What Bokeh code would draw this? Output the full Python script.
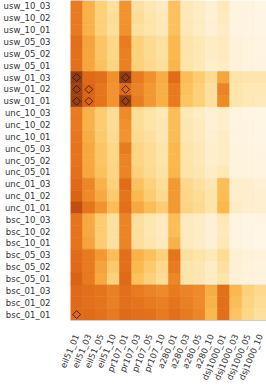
import math
from bokeh.plotting import figure
from bokeh.models import LinearColorMapper, ColumnDataSource
from bokeh.transform import transform
from bokeh.embed import file_html
from bokeh.resources import INLINE

columns = ["eil51_01", "eil51_03", "eil51_05", "eil51_10",
           "pr107_01", "pr107_03", "pr107_05", "pr107_10",
           "a280_01", "a280_03", "a280_05", "a280_10",
           "dsj1000_01", "dsj1000_03", "dsj1000_05", "dsj1000_10"]

usw_rows = ["usw_10_03", "usw_10_02", "usw_10_01", "usw_05_03", "usw_05_02",
            "usw_05_01", "usw_01_03", "usw_01_02", "usw_01_01"]
unc_rows = ["unc_10_03", "unc_10_02", "unc_10_01", "unc_05_03", "unc_05_02",
            "unc_05_01", "unc_01_03", "unc_01_02", "unc_01_01"]
bsc_rows = ["bsc_10_03", "bsc_10_02", "bsc_10_01", "bsc_05_03", "bsc_05_02",
            "bsc_05_01", "bsc_01_03", "bsc_01_02", "bsc_01_01"]

usw_values = [
    [0.60, 0.42, 0.30, 0.22, 0.52, 0.22, 0.18, 0.15, 0.36, 0.17, 0.14, 0.10, 0.16, 0.06, 0.06, 0.05],
    [0.60, 0.42, 0.30, 0.24, 0.52, 0.24, 0.20, 0.17, 0.36, 0.17, 0.14, 0.10, 0.15, 0.06, 0.06, 0.05],
    [0.60, 0.42, 0.30, 0.23, 0.53, 0.22, 0.20, 0.17, 0.36, 0.17, 0.14, 0.10, 0.13, 0.06, 0.06, 0.05],
    [0.64, 0.47, 0.35, 0.27, 0.60, 0.30, 0.25, 0.22, 0.40, 0.20, 0.17, 0.13, 0.15, 0.08, 0.07, 0.06],
    [0.63, 0.46, 0.35, 0.27, 0.58, 0.30, 0.25, 0.22, 0.40, 0.20, 0.17, 0.13, 0.15, 0.08, 0.07, 0.06],
    [0.63, 0.46, 0.36, 0.28, 0.58, 0.30, 0.26, 0.23, 0.41, 0.20, 0.17, 0.12, 0.14, 0.08, 0.07, 0.06],
    [0.88, 0.66, 0.64, 0.53, 0.88, 0.60, 0.53, 0.44, 0.65, 0.38, 0.32, 0.25, 0.46, 0.20, 0.19, 0.19],
    [0.85, 0.68, 0.61, 0.52, 0.65, 0.57, 0.50, 0.43, 0.60, 0.37, 0.30, 0.22, 0.57, 0.19, 0.17, 0.17],
    [0.86, 0.68, 0.62, 0.52, 0.86, 0.59, 0.51, 0.43, 0.60, 0.35, 0.30, 0.22, 0.55, 0.19, 0.17, 0.16],
]

unc_values = [
    [0.60, 0.42, 0.32, 0.24, 0.55, 0.24, 0.20, 0.17, 0.38, 0.17, 0.14, 0.10, 0.12, 0.06, 0.05, 0.05],
    [0.60, 0.42, 0.32, 0.24, 0.53, 0.24, 0.20, 0.18, 0.38, 0.18, 0.15, 0.10, 0.12, 0.06, 0.06, 0.05],
    [0.61, 0.44, 0.33, 0.25, 0.52, 0.25, 0.22, 0.18, 0.38, 0.18, 0.15, 0.11, 0.14, 0.06, 0.06, 0.05],
    [0.62, 0.45, 0.35, 0.27, 0.60, 0.28, 0.24, 0.20, 0.40, 0.20, 0.17, 0.12, 0.14, 0.07, 0.07, 0.06],
    [0.62, 0.45, 0.35, 0.27, 0.57, 0.28, 0.24, 0.20, 0.40, 0.20, 0.17, 0.12, 0.14, 0.07, 0.07, 0.06],
    [0.63, 0.46, 0.36, 0.28, 0.57, 0.30, 0.25, 0.21, 0.41, 0.20, 0.18, 0.13, 0.17, 0.07, 0.07, 0.06],
    [0.66, 0.56, 0.42, 0.30, 0.65, 0.36, 0.30, 0.24, 0.50, 0.26, 0.22, 0.18, 0.38, 0.12, 0.12, 0.10],
    [0.68, 0.55, 0.45, 0.33, 0.62, 0.40, 0.32, 0.26, 0.50, 0.27, 0.24, 0.20, 0.38, 0.12, 0.12, 0.11],
    [0.77, 0.62, 0.52, 0.38, 0.64, 0.45, 0.38, 0.32, 0.50, 0.28, 0.25, 0.20, 0.40, 0.13, 0.12, 0.11],
]

bsc_values = [
    [0.62, 0.45, 0.32, 0.22, 0.57, 0.23, 0.18, 0.15, 0.38, 0.15, 0.13, 0.10, 0.17, 0.06, 0.05, 0.05],
    [0.62, 0.45, 0.32, 0.22, 0.57, 0.23, 0.18, 0.15, 0.38, 0.15, 0.13, 0.10, 0.16, 0.06, 0.05, 0.04],
    [0.62, 0.47, 0.32, 0.22, 0.57, 0.23, 0.19, 0.16, 0.42, 0.15, 0.13, 0.10, 0.17, 0.06, 0.05, 0.04],
    [0.65, 0.60, 0.50, 0.38, 0.64, 0.42, 0.37, 0.30, 0.62, 0.22, 0.20, 0.17, 0.24, 0.10, 0.09, 0.08],
    [0.66, 0.60, 0.47, 0.33, 0.64, 0.40, 0.33, 0.26, 0.60, 0.20, 0.18, 0.14, 0.22, 0.10, 0.08, 0.07],
    [0.68, 0.60, 0.45, 0.30, 0.66, 0.37, 0.30, 0.24, 0.56, 0.20, 0.18, 0.14, 0.20, 0.09, 0.08, 0.07],
    [0.66, 0.64, 0.62, 0.58, 0.64, 0.60, 0.57, 0.55, 0.60, 0.57, 0.55, 0.44, 0.64, 0.40, 0.30, 0.26],
    [0.66, 0.64, 0.62, 0.58, 0.64, 0.62, 0.60, 0.58, 0.62, 0.58, 0.55, 0.42, 0.64, 0.38, 0.28, 0.24],
    [0.66, 0.65, 0.63, 0.60, 0.66, 0.64, 0.63, 0.60, 0.64, 0.60, 0.56, 0.40, 0.64, 0.35, 0.27, 0.22],
]

mark_rows = ["usw_01_03", "usw_01_03", "usw_01_02", "usw_01_02", "usw_01_02",
             "usw_01_01", "usw_01_01", "usw_01_01", "bsc_01_01"]
mark_cols = ["eil51_01", "pr107_01", "eil51_01", "eil51_03", "pr107_01",
             "eil51_01", "eil51_03", "pr107_01", "eil51_01"]

# colour scale anchors (light -> dark)
anchors = ["#fffaf0", "#fef0d4", "#fde4a8", "#fdd07a", "#fbb84e", "#f39a34",
           "#e87a20", "#d85e12", "#b8480c", "#8a3a14", "#6a2a0a"]


def hex2rgb(h):
    return tuple(int(h[i:i + 2], 16) for i in (1, 3, 5))


palette = []
n = 256
for i in range(n):
    t = i / (n - 1) * (len(anchors) - 1)
    k = min(int(t), len(anchors) - 2)
    f = t - k
    a, b = hex2rgb(anchors[k]), hex2rgb(anchors[k + 1])
    c = tuple(round(a[j] + (b[j] - a[j]) * f) for j in range(3))
    palette.append("#%02x%02x%02x" % c)

rows = usw_rows + unc_rows + bsc_rows
values = usw_values + unc_values + bsc_values

xs, ys, vs = [], [], []
for r, rowvals in zip(rows, values):
    for c, v in zip(columns, rowvals):
        xs.append(c)
        ys.append(r)
        vs.append(v)

src = ColumnDataSource(dict(col=xs, row=ys, v=vs))
mapper = LinearColorMapper(palette=palette, low=0.0, high=1.0)

p = figure(width=266, height=386, x_range=columns, y_range=list(reversed(rows)),
           output_backend="svg", toolbar_location=None,
           min_border_left=69, min_border_right=0, min_border_top=0,
           min_border_bottom=60)
p.outline_line_color = None
p.grid.visible = False
p.background_fill_color = "white"

p.rect(x="col", y="row", width=1, height=1, source=src,
       fill_color=transform("v", mapper), line_color=transform("v", mapper),
       line_width=0.6)

p.scatter(x=mark_cols, y=mark_rows, marker="square", angle=math.pi / 4,
          size=5.5, fill_color=None, line_color="#2a1808", line_alpha=0.8,
          line_width=1)

for ax in (p.xaxis[0], p.yaxis[0]):
    ax.major_tick_line_color = None
    ax.minor_tick_line_color = None
    ax.major_label_text_font = "DejaVu Sans"
    ax.major_label_text_font_size = "8.5px"
    ax.major_label_text_color = "#333333"

p.yaxis.axis_line_color = None
p.yaxis.major_label_standoff = 14
p.xaxis.axis_line_color = "#cccccc"
p.xaxis.major_label_orientation = math.radians(67)
p.xaxis.major_label_standoff = 8

open("out.html", "w").write(file_html(p, INLINE))
